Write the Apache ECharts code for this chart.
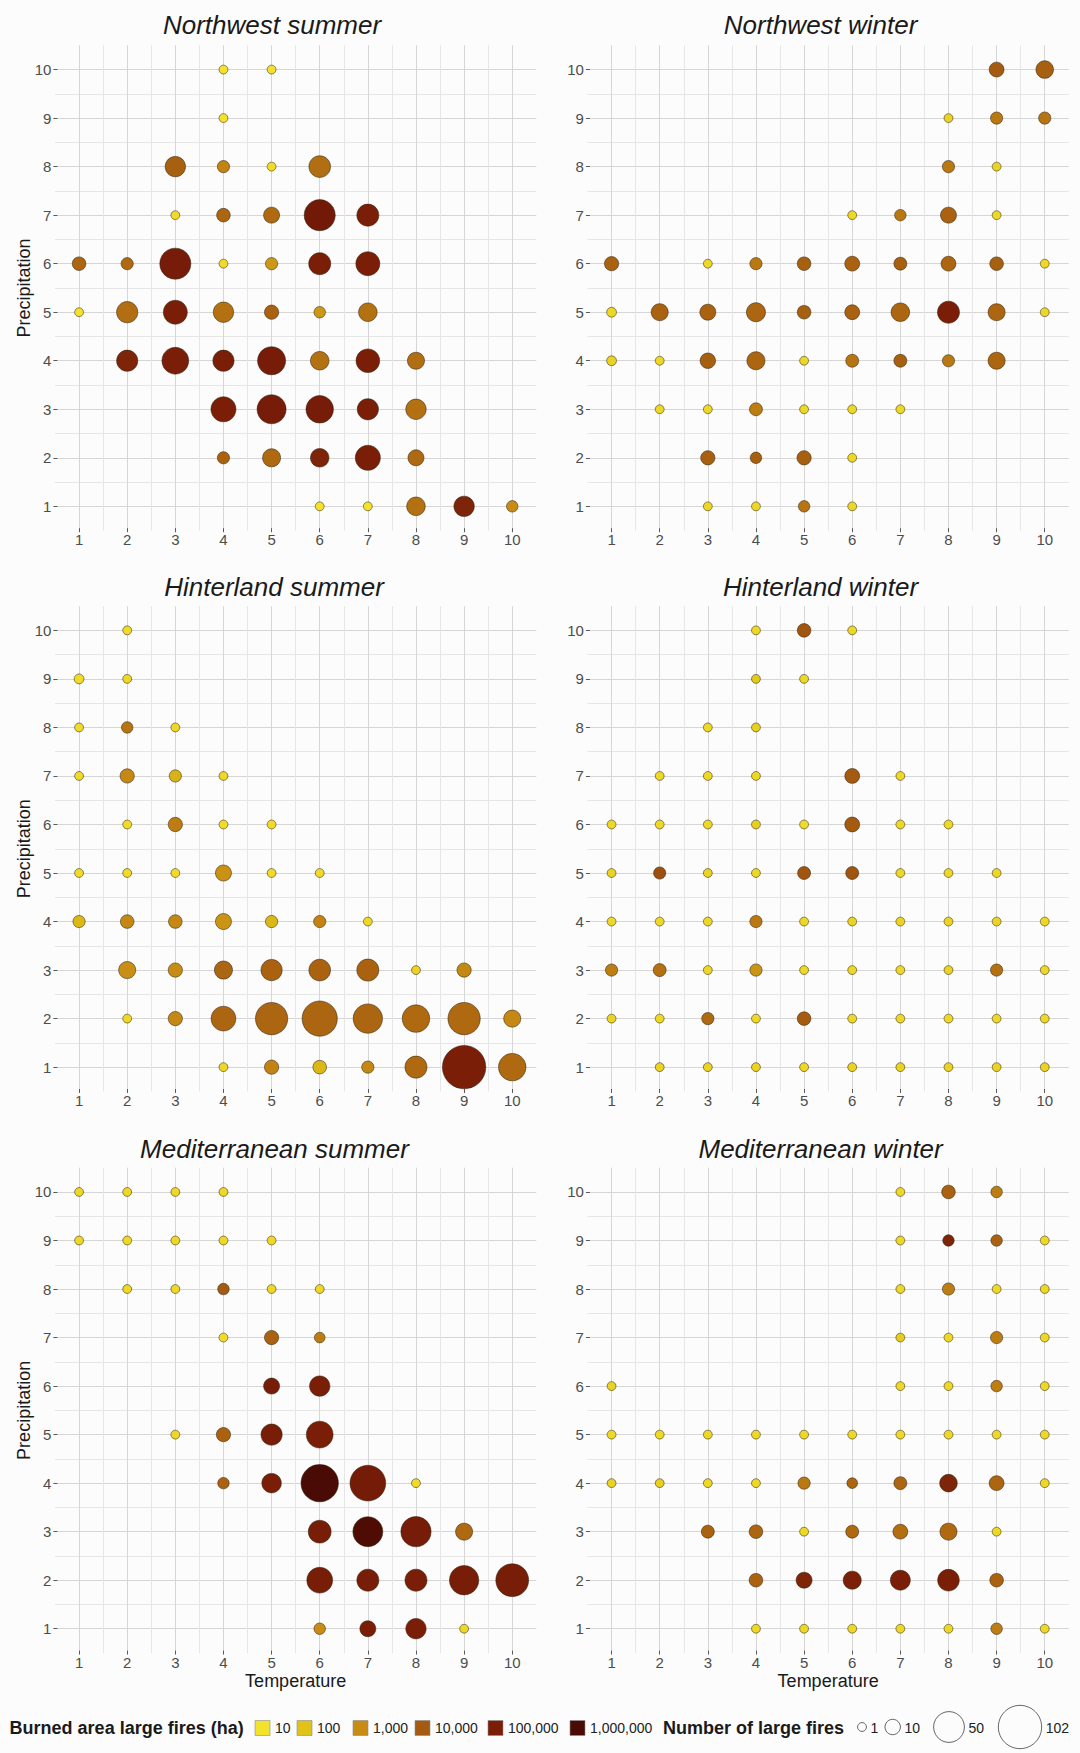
<!DOCTYPE html>
<html>
<head>
<meta charset="utf-8">
<script src="https://cdn.jsdelivr.net/npm/echarts@6/dist/echarts.min.js"></script>
<style>
html,body{margin:0;padding:0;background:#fcfcfc;}
#chart{width:1080px;height:1753px;}
</style>
</head>
<body>
<div id="chart"></div>
<script>
// ---------- DATA: [temperature, precipitation, number of large fires, burned area (ha)] ----------
const northwestSummer = [
  [4,10,1,10],[5,10,1,10],
  [4,9,1,10],
  [3,8,20,8000],[4,8,5,1500],[5,8,1,15],[6,8,23,4000],
  [3,7,1,15],[4,7,7,6000],[5,7,11,5000],[6,7,51,150000],[7,7,24,100000],
  [1,6,7,6000],[2,6,5,5000],[3,6,51,120000],[4,6,1,15],[5,6,5,600],[6,6,24,100000],[7,6,29,100000],
  [1,5,1,10],[2,5,22,4000],[3,5,29,100000],[4,5,20,3500],[5,5,8,7000],[6,5,4,600],[7,5,16,3500],
  [2,4,22,80000],[3,4,37,100000],[4,4,22,100000],[5,4,41,120000],[6,4,16,3500],[7,4,28,100000],[8,4,13,4000],
  [4,3,32,100000],[5,3,44,120000],[6,3,39,120000],[7,3,22,100000],[8,3,20,3500],
  [4,2,5,7000],[5,2,15,5000],[6,2,16,80000],[7,2,32,100000],[8,2,11,5000],
  [6,1,1,10],[7,1,1,10],[8,1,16,3500],[9,1,20,80000],[10,1,4,1000]
];
const northwestWinter = [
  [9,10,9,10000],[10,10,14,8000],
  [8,9,1,30],[9,9,5,2500],[10,9,5,3000],
  [8,8,5,2500],[9,8,1,30],
  [6,7,1,20],[7,7,4,2500],[8,7,11,7000],[9,7,1,20],
  [1,6,8,7000],[3,6,1,20],[4,6,5,2500],[5,6,7,8000],[6,6,9,7000],[7,6,6,8000],[8,6,9,6000],[9,6,7,8000],[10,6,1,20],
  [1,5,2,20],[2,5,13,7000],[3,5,11,7000],[4,5,17,6000],[5,5,7,8000],[6,5,9,7000],[7,5,16,6000],[8,5,24,100000],[9,5,13,6000],[10,5,1,20],
  [1,4,2,30],[2,4,1,20],[3,4,10,8000],[4,4,15,6000],[5,4,1,20],[6,4,6,3000],[7,4,6,8000],[8,4,5,2500],[9,4,13,6000],
  [2,3,1,20],[3,3,1,20],[4,3,6,2000],[5,3,1,20],[6,3,1,20],[7,3,1,20],
  [3,2,8,8000],[4,2,4,8000],[5,2,8,8000],[6,2,1,20],
  [3,1,1,20],[4,1,1,20],[5,1,4,3000],[6,1,1,20]
];
const hinterlandSummer = [
  [2,10,1,15],
  [1,9,2,15],[2,9,1,20],
  [1,8,1,15],[2,8,4,3000],[3,8,1,20],
  [1,7,1,15],[2,7,8,1200],[3,7,5,200],[4,7,1,20],
  [2,6,1,15],[3,6,8,2000],[4,6,1,15],[5,6,1,15],
  [1,5,1,15],[2,5,1,15],[3,5,1,15],[4,5,11,800],[5,5,1,15],[6,5,1,15],
  [1,4,5,150],[2,4,7,1200],[3,4,7,1200],[4,4,11,700],[5,4,5,150],[6,4,5,1500],[7,4,1,20],
  [2,3,13,900],[3,3,8,1000],[4,3,15,6000],[5,3,22,7000],[6,3,23,7000],[7,3,24,7000],[8,3,1,30],[9,3,8,1200],
  [2,2,1,20],[3,2,8,1200],[4,2,31,6000],[5,2,55,6000],[6,2,66,6000],[7,2,45,6000],[8,2,39,5000],[9,2,55,5000],[10,2,13,1200],
  [4,1,1,20],[5,1,8,1500],[6,1,7,150],[7,1,5,1200],[8,1,24,5000],[9,1,102,100000],[10,1,39,5000]
];
const hinterlandWinter = [
  [4,10,1,20],[5,10,7,12000],[6,10,1,20],
  [4,9,1,60],[5,9,1,20],
  [3,8,1,20],[4,8,1,40],
  [2,7,1,20],[3,7,1,20],[4,7,1,20],[6,7,9,10000],[7,7,1,20],
  [1,6,1,20],[2,6,1,20],[3,6,1,20],[4,6,1,40],[5,6,1,15],[6,6,9,10000],[7,6,1,20],[8,6,1,20],
  [1,5,1,30],[2,5,5,15000],[3,5,1,30],[4,5,1,20],[5,5,6,12000],[6,5,6,12000],[7,5,1,20],[8,5,1,20],[9,5,1,20],
  [1,4,1,20],[2,4,1,20],[3,4,1,20],[4,4,5,2500],[5,4,1,20],[6,4,1,30],[7,4,1,30],[8,4,1,30],[9,4,1,30],[10,4,1,20],
  [1,3,5,2000],[2,3,6,3500],[3,3,1,20],[4,3,5,700],[5,3,1,20],[6,3,1,20],[7,3,1,20],[8,3,1,30],[9,3,5,3500],[10,3,1,20],
  [1,2,1,30],[2,2,1,20],[3,2,5,5000],[4,2,1,20],[5,2,7,9000],[6,2,1,20],[7,2,1,20],[8,2,1,20],[9,2,1,20],[10,2,1,20],
  [2,1,1,30],[3,1,1,30],[4,1,1,30],[5,1,1,20],[6,1,1,30],[7,1,1,30],[8,1,1,30],[9,1,1,30],[10,1,1,30]
];
const mediterraneanSummer = [
  [1,10,1,20],[2,10,1,20],[3,10,1,20],[4,10,1,20],
  [1,9,1,20],[2,9,1,20],[3,9,1,20],[4,9,1,20],[5,9,1,20],
  [2,8,1,20],[3,8,1,20],[4,8,4,10000],[5,8,1,20],[6,8,1,20],
  [4,7,1,15],[5,7,8,7000],[6,7,3,2000],
  [5,6,11,120000],[6,6,20,100000],
  [3,5,1,20],[4,5,8,7000],[5,5,22,110000],[6,5,37,100000],
  [4,4,4,7000],[5,4,18,100000],[6,4,75,1000000],[7,4,68,130000],[8,4,1,15],
  [6,3,26,110000],[7,3,47,800000],[8,3,48,120000],[9,3,13,5000],
  [6,2,34,110000],[7,2,24,110000],[8,2,24,100000],[9,2,45,110000],[10,2,57,110000],
  [6,1,4,1000],[7,1,11,100000],[8,1,20,100000],[9,1,1,20]
];
const mediterraneanWinter = [
  [7,10,1,20],[8,10,7,7000],[9,10,4,2000],
  [7,9,1,20],[8,9,4,80000],[9,9,4,7000],[10,9,1,20],
  [7,8,1,20],[8,8,5,2000],[9,8,1,20],[10,8,1,20],
  [7,7,1,50],[8,7,1,20],[9,7,5,2000],[10,7,1,20],
  [1,6,1,30],[7,6,1,20],[8,6,1,20],[9,6,4,2000],[10,6,1,20],
  [1,5,1,20],[2,5,1,20],[3,5,1,20],[4,5,1,20],[5,5,1,20],[6,5,1,20],[7,5,1,20],[8,5,1,20],[9,5,1,20],[10,5,1,20],
  [1,4,1,30],[2,4,1,40],[3,4,1,20],[4,4,1,20],[5,4,5,2500],[6,4,3,6000],[7,4,6,6000],[8,4,14,80000],[9,4,9,6000],[10,4,1,20],
  [3,3,6,7000],[4,3,7,6000],[5,3,1,20],[6,3,6,5000],[7,3,9,4000],[8,3,13,5000],[9,3,1,20],
  [4,2,7,7000],[5,2,11,80000],[6,2,15,90000],[7,2,19,100000],[8,2,23,100000],[9,2,7,7000],
  [4,1,1,20],[5,1,1,20],[6,1,1,20],[7,1,1,20],[8,1,1,20],[9,1,4,2000],[10,1,1,20]
];
const panelTitles = ['Northwest summer','Northwest winter','Hinterland summer','Hinterland winter','Mediterranean summer','Mediterranean winter'];
const axisTickValues = [1,2,3,4,5,6,7,8,9,10];
const areaBreaks = [10,100,1000,10000,100000,1000000];
const areaBreakLabels = ['10','100','1,000','10,000','100,000','1,000,000'];
const fireBreaks = [1,10,50,102];
const fireBreakLabels = ['1','10','50','102'];

// ---------- STYLE / LAYOUT ----------
const FONT = '"Liberation Sans", Arial, Helvetica, sans-serif';
const colorStops = ['#f3e22c','#e0c218','#c88c14','#a45a10','#7a1e08','#4a0a05'];
const sizeOf = n => Math.sqrt(60 + 17.8 * n);
const panels = [northwestSummer, northwestWinter, hinterlandSummer, hinterlandWinter, mediterraneanSummer, mediterraneanWinter];
const gridPos = [[55,45.3],[587.5,45.3],[55,606.1],[587.5,606.1],[55,1167.7],[587.5,1167.7]];
const GRID_W = 481.3, GRID_H = 485.3;
const titlePos = [[272,25],[820.6,25],[274,587],[820.6,587],[274.5,1148.6],[820.6,1148.6]];
const legendY = 1728;
const swatchX = [255, 297, 353, 415, 488, 570];
const circleCX = [862, 892.7, 949, 1020];

const fmt = v => (Math.abs(v - Math.round(v)) < 1e-9 ? String(Math.round(v)) : '');

// visible axis: ticks + labels at integers, no grid lines
function labelAxis(i, isX) {
  return {
    gridIndex: i, type: 'value', min: 0.5, max: 10.5, interval: 0.5, offset: -2.4,
    position: isX ? 'bottom' : 'left',
    axisLine: { show: false },
    axisTick: { show: true, length: 4, customValues: axisTickValues, lineStyle: { color: '#5a5a5a', width: 1 } },
    axisLabel: { show: true, customValues: axisTickValues, margin: isX ? 4 : 6, fontSize: 15, color: '#4d4d4d', fontFamily: FONT, formatter: fmt },
    splitLine: { show: false },
    splitArea: { show: false },
    name: isX ? (i >= 4 ? 'Temperature' : '') : (i % 2 === 0 ? 'Precipitation' : ''),
    nameLocation: 'middle', nameMoveOverlap: false,
    nameGap: isX ? 21.4 : 24.4,
    nameRotate: isX ? 0 : 90,
    nameTextStyle: { fontFamily: FONT, fontSize: 18, color: '#1a1a1a' }
  };
}
// companion axis: only the major (integer) and minor (half) grid lines
function gridAxis(i, isX) {
  return {
    gridIndex: i, type: 'value', min: 0.5, max: 10.5, interval: 0.5,
    position: isX ? 'bottom' : 'left',
    axisLine: { show: false }, axisTick: { show: false }, axisLabel: { show: false },
    splitLine: { show: true, showMinLine: false, showMaxLine: false, lineStyle: { color: ['#d6d6d6', '#e6e6e6'], width: 1 } },
    splitArea: { show: false }, silent: true
  };
}

const graphic = [];
graphic.push({ type: 'text', x: 9.6, y: legendY, silent: true,
  style: { text: 'Burned area large fires (ha)', font: 'bold 18px ' + FONT, fill: '#1a1a1a', verticalAlign: 'middle', align: 'left' } });
areaBreaks.forEach((b, k) => {
  graphic.push({ type: 'rect', silent: true, shape: { x: swatchX[k], y: legendY - 7.5, width: 15, height: 15 },
    style: { fill: colorStops[Math.round(Math.log10(b)) - 1], stroke: '#8c8c8c', lineWidth: 0.6 } });
  graphic.push({ type: 'text', silent: true, x: swatchX[k] + 20, y: legendY,
    style: { text: areaBreakLabels[k], font: '14px ' + FONT, fill: '#222', verticalAlign: 'middle', align: 'left' } });
});
graphic.push({ type: 'text', x: 663, y: legendY, silent: true,
  style: { text: 'Number of large fires', font: 'bold 18px ' + FONT, fill: '#1a1a1a', verticalAlign: 'middle', align: 'left' } });
fireBreaks.forEach((n, k) => {
  const r = sizeOf(n) / 2;
  graphic.push({ type: 'circle', silent: true, shape: { cx: circleCX[k], cy: legendY - 1, r: r },
    style: { fill: 'none', stroke: '#555', lineWidth: 0.9 } });
  graphic.push({ type: 'text', silent: true, x: circleCX[k] + r + 4, y: legendY,
    style: { text: fireBreakLabels[k], font: '14px ' + FONT, fill: '#222', verticalAlign: 'middle', align: 'left' } });
});

const idx = [0,1,2,3,4,5];
const option = {
  backgroundColor: '#fcfcfc',
  animation: false,
  textStyle: { fontFamily: FONT },
  title: panelTitles.map((t, i) => ({
    text: t, left: titlePos[i][0], top: titlePos[i][1] - 15, textAlign: 'center', padding: 0,
    textStyle: { fontFamily: FONT, fontSize: 26, lineHeight: 30, fontStyle: 'italic', fontWeight: 'normal', color: '#1a1a1a' }
  })),
  grid: gridPos.map(p => ({ left: p[0], top: p[1], width: GRID_W, height: GRID_H, containLabel: false, outerBoundsMode: 'none' })),
  xAxis: idx.map(i => labelAxis(i, true)).concat(idx.map(i => gridAxis(i, true))),
  yAxis: idx.map(i => labelAxis(i, false)).concat(idx.map(i => gridAxis(i, false))),
  visualMap: {
    type: 'continuous', show: false, min: 1, max: 6, dimension: 3,
    seriesIndex: idx, inRange: { color: colorStops }
  },
  series: panels.map((rows, i) => ({
    type: 'scatter', xAxisIndex: i, yAxisIndex: i, silent: true, z: 3,
    data: rows.map(r => [r[0], r[1], r[2], Math.log10(r[3])]),
    symbolSize: v => sizeOf(v[2]),
    itemStyle: { borderColor: 'rgba(45,30,10,0.75)', borderWidth: 0.7, opacity: 1 },
    emphasis: { disabled: true }
  })),
  graphic: graphic
};

const chart = echarts.init(document.getElementById('chart'), null, { renderer: 'svg', width: 1080, height: 1753 });
chart.setOption(option);
</script>
</body>
</html>
